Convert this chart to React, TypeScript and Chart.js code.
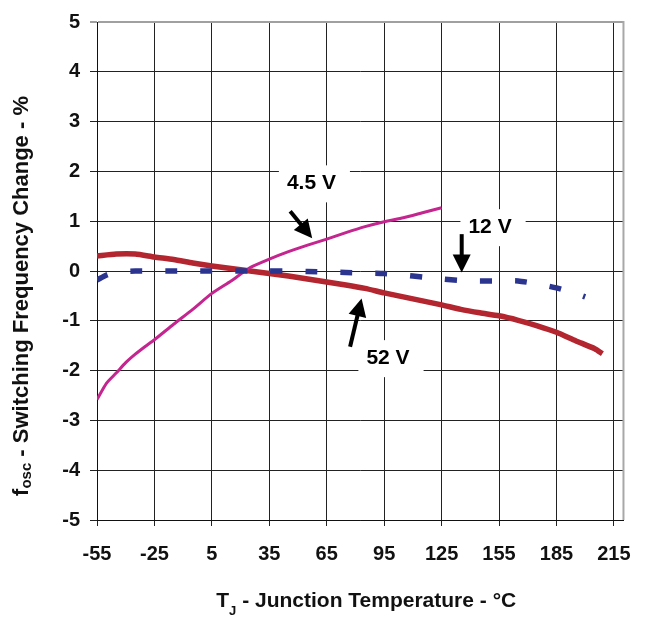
import React, { useEffect, useRef } from 'react';
import { Chart, registerables } from 'chart.js';

Chart.register(...registerables);

const FONT = '"Liberation Sans", Arial, Helvetica, sans-serif';

// 52 V series (dark red)
const temps52 = [-55, -45, -35, -25, -15, -5, 5, 15, 25, 35, 45, 55, 65, 75, 85, 95, 105, 115, 125, 135, 145, 155, 165, 175, 185, 195, 205, 209];
const freq52 = [0.30, 0.34, 0.34, 0.28, 0.23, 0.16, 0.10, 0.05, 0.00, -0.05, -0.10, -0.16, -0.22, -0.28, -0.35, -0.44, -0.52, -0.60, -0.68, -0.77, -0.84, -0.90, -0.99, -1.10, -1.23, -1.40, -1.56, -1.66];

// 4.5 V series (magenta)
const temps45 = [-55, -50, -45, -40, -35, -30, -25, -15, -5, 5, 15, 25, 35, 45, 55, 65, 75, 85, 95, 105, 115, 125];
const freq45 = [-2.58, -2.25, -2.05, -1.84, -1.67, -1.52, -1.38, -1.07, -0.77, -0.45, -0.20, 0.07, 0.24, 0.39, 0.52, 0.64, 0.77, 0.89, 0.99, 1.07, 1.17, 1.27];

// 12 V series (blue dashed)
const temps12 = [-55, -50, -45, -35, -25, -15, -5, 5, 15, 25, 35, 45, 55, 65, 75, 85, 95, 105, 115, 125, 135, 145, 155, 165, 175, 185, 195, 200];
const freq12 = [-0.18, -0.08, -0.02, 0.0, 0.0, 0.0, 0.0, 0.0, 0.0, 0.0, 0.0, 0.0, -0.01, -0.02, -0.03, -0.04, -0.05, -0.08, -0.12, -0.16, -0.19, -0.20, -0.20, -0.20, -0.26, -0.34, -0.45, -0.52];

const xTicks = [-55, -25, 5, 35, 65, 95, 125, 155, 185, 215];
const yTicks = [-5, -4, -3, -2, -1, 0, 1, 2, 3, 4, 5];

const labelTexts = ['4.5 V', '12 V', '52 V'];
const labelX = [57, 150.3, 97];
const labelY = [1.76, 0.88, -1.75];

const arrowFromX = [45.9, 77.2, 135.5];
const arrowFromY = [1.20, -1.52, 0.74];
const arrowToX = [57.4, 83.2, 135.5];
const arrowToY = [0.66, -0.55, -0.03];

const toPts = (xs: number[], ys: number[]) => xs.map((x, i) => ({ x, y: ys[i] }));

const overlayPlugin = {
  id: 'overlay',
  afterDatasetsDraw(chart: any) {
    const { ctx, chartArea, scales } = chart;
    const xs = scales.x;
    const ys = scales.y;
    ctx.save();
    // right border (light gray)
    ctx.strokeStyle = '#a8a8a8';
    ctx.lineWidth = 2;
    ctx.beginPath();
    ctx.moveTo(chartArea.right, chartArea.top - 1);
    ctx.lineTo(chartArea.right, chartArea.bottom);
    ctx.stroke();

    // labels with white boxes
    ctx.font = `bold 21px ${FONT}`;
    ctx.textAlign = 'center';
    ctx.textBaseline = 'middle';
    labelTexts.forEach((t, i) => {
      const cx = xs.getPixelForValue(labelX[i]);
      const cy = ys.getPixelForValue(labelY[i]);
      const w = ctx.measureText(t).width;
      ctx.fillStyle = '#ffffff';
      ctx.fillRect(cx - w / 2 - 8, cy - 18, w + 22, 37);
      ctx.fillStyle = '#000000';
      ctx.fillText(t, cx, cy);
    });

    // arrows
    arrowFromX.forEach((fx, i) => {
      const x1 = xs.getPixelForValue(fx);
      const y1 = ys.getPixelForValue(arrowFromY[i]);
      const x2 = xs.getPixelForValue(arrowToX[i]);
      const y2 = ys.getPixelForValue(arrowToY[i]);
      const ang = Math.atan2(y2 - y1, x2 - x1);
      const headLen = 18;
      const headHalf = 9;
      const bx = x2 - headLen * Math.cos(ang);
      const by = y2 - headLen * Math.sin(ang);
      ctx.strokeStyle = '#000';
      ctx.lineWidth = 4;
      ctx.lineCap = 'butt';
      ctx.beginPath();
      ctx.moveTo(x1, y1);
      ctx.lineTo(bx + 2 * Math.cos(ang), by + 2 * Math.sin(ang));
      ctx.stroke();
      ctx.fillStyle = '#000';
      ctx.beginPath();
      ctx.moveTo(x2, y2);
      ctx.lineTo(bx + headHalf * Math.sin(ang), by - headHalf * Math.cos(ang));
      ctx.lineTo(bx - headHalf * Math.sin(ang), by + headHalf * Math.cos(ang));
      ctx.closePath();
      ctx.fill();
    });
    ctx.restore();
  },
  afterDraw(chart: any) {
    const { ctx, chartArea } = chart;
    ctx.save();
    ctx.fillStyle = '#111';
    ctx.textBaseline = 'alphabetic';
    ctx.textAlign = 'left';

    // X title: T_J - Junction Temperature - °C
    const xParts = [
      { t: 'T', s: 21, dy: 0 },
      { t: 'J', s: 13, dy: 8 },
      { t: ' - Junction Temperature - °C', s: 21, dy: 0 },
    ];
    let total = 0;
    xParts.forEach((p) => {
      ctx.font = `bold ${p.s}px ${FONT}`;
      total += ctx.measureText(p.t).width;
    });
    let cx = (chartArea.left + chartArea.right) / 2 + 6 - total / 2;
    const baseY = chartArea.bottom + 87;
    xParts.forEach((p) => {
      ctx.font = `bold ${p.s}px ${FONT}`;
      ctx.fillText(p.t, cx, baseY + p.dy);
      cx += ctx.measureText(p.t).width;
    });

    // Y title: f_osc - Switching Frequency Change - %
    const yParts = [
      { t: 'f', s: 22, dy: 0 },
      { t: 'osc', s: 15, dy: 3 },
      { t: ' - Switching Frequency Change - %', s: 22, dy: 0 },
    ];
    total = 0;
    yParts.forEach((p) => {
      ctx.font = `bold ${p.s}px ${FONT}`;
      total += ctx.measureText(p.t).width;
    });
    ctx.translate(28, (chartArea.top + chartArea.bottom) / 2 + 25);
    ctx.rotate(-Math.PI / 2);
    let px = -total / 2;
    yParts.forEach((p) => {
      ctx.font = `bold ${p.s}px ${FONT}`;
      ctx.fillText(p.t, px, p.dy);
      px += ctx.measureText(p.t).width;
    });
    ctx.restore();
  },
};

export default function App() {
  const canvasRef = useRef<HTMLCanvasElement | null>(null);

  useEffect(() => {
    const canvas = canvasRef.current;
    if (!canvas) return;
    const chart = new Chart(canvas, {
      type: 'line',
      data: {
        datasets: [
          {
            label: '12 V',
            data: toPts(temps12, freq12),
            borderColor: '#2b3590',
            borderWidth: 5.5,
            borderDash: [12, 23],
            borderCapStyle: 'butt',
            pointRadius: 0,
            tension: 0.2,
            order: 0,
          },
          {
            label: '4.5 V',
            data: toPts(temps45, freq45),
            borderColor: '#c4258f',
            borderWidth: 3,
            pointRadius: 0,
            tension: 0.2,
            order: 1,
          },
          {
            label: '52 V',
            data: toPts(temps52, freq52),
            borderColor: '#b3262f',
            borderWidth: 5.5,
            pointRadius: 0,
            tension: 0.2,
            order: 2,
          },
        ],
      },
      options: {
        animation: false,
        responsive: false,
        maintainAspectRatio: false,
        devicePixelRatio: 1,
        layout: { padding: { left: 0, right: 23, top: 14, bottom: 0 } },
        plugins: { legend: { display: false }, tooltip: { enabled: false } },
        scales: {
          x: {
            type: 'linear',
            min: -55,
            max: 220,
            afterBuildTicks: (scale: any) => {
              scale.ticks = xTicks.map((v) => ({ value: v }));
            },
            afterFit: (scale: any) => {
              scale.height = 99;
            },
            grid: { color: '#222', lineWidth: 1, tickLength: 6, drawTicks: true },
            border: { display: true, color: '#111', width: 1 },
            ticks: {
              color: '#111',
              font: { family: FONT, size: 20, weight: 'bold' },
              padding: 16,
              maxRotation: 0,
              autoSkip: false,
              callback: (v: any) => String(v),
            },
          },
          y: {
            type: 'linear',
            min: -5,
            max: 5,
            afterBuildTicks: (scale: any) => {
              scale.ticks = yTicks.map((v) => ({ value: v }));
            },
            afterFit: (scale: any) => {
              scale.width = 97;
            },
            grid: {
              color: (c: any) => (c.tick && c.tick.value === 5 ? '#a0a0a0' : '#222'),
              lineWidth: (c: any) => (c.tick && c.tick.value === 5 ? 2 : 1),
              tickLength: 7,
              drawTicks: true,
            },
            border: { display: true, color: '#111', width: 1 },
            ticks: {
              color: '#111',
              font: { family: FONT, size: 20, weight: 'bold' },
              padding: 10,
              autoSkip: false,
              callback: (v: any) => String(v),
            },
          },
        },
      } as any,
      plugins: [overlayPlugin],
    });
    return () => chart.destroy();
  }, []);

  return (
    <div style={{ position: 'absolute', left: 0, top: 0, width: 647, height: 619, background: '#fff' }}>
      <canvas ref={canvasRef} width={647} height={619} style={{ width: 647, height: 619, display: 'block' }} />
    </div>
  );
}
